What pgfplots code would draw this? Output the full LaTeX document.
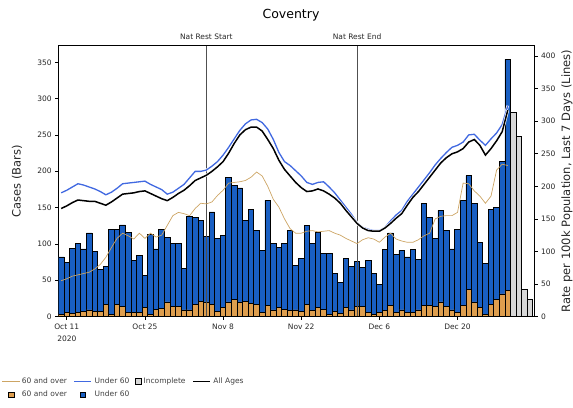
\documentclass[border=0pt]{standalone}
\usepackage{fontspec}
\setmainfont{DejaVu Sans}
\usepackage{pgfplots}
\usepackage{pgfplotstable}
\pgfplotsset{compat=1.18}

\definecolor{barblue}{RGB}{25,95,195}
\definecolor{barorange}{RGB}{222,158,78}
\definecolor{lineblue}{RGB}{65,105,225}
\definecolor{linetan}{RGB}{205,165,100}
\definecolor{incgray}{RGB}{215,215,215}
\definecolor{restgray}{RGB}{80,80,80}

% daily cases: d = days after 11 Oct 2020
\pgfplotstableread{
d over under
-1 3 79
0 5 69
1 4 90
2 6 94
3 7 86
4 9 106
5 7 82
6 7 58
7 16 53
8 3 117
9 16 104
10 14 112
11 6 110
12 5 72
13 5 79
14 13 44
15 3 110
16 10 83
17 11 109
18 20 89
19 14 87
20 14 87
21 9 57
22 9 129
23 17 120
24 21 111
25 20 90
26 17 127
27 7 101
28 13 99
29 20 172
30 23 158
31 20 157
32 21 111
33 18 129
34 17 101
35 6 85
36 15 145
37 9 92
38 13 82
39 10 91
40 8 111
41 9 61
42 7 73
43 16 109
44 8 92
45 13 103
46 10 77
47 3 84
48 7 52
49 4 43
50 13 67
51 9 60
52 14 62
53 14 54
54 6 71
55 3 56
56 5 39
57 8 84
58 15 100
59 5 80
60 9 82
61 6 76
62 6 86
63 9 70
64 15 141
65 15 122
66 14 94
67 20 126
68 14 104
69 9 84
70 5 115
71 15 145
72 37 157
73 20 136
74 13 89
75 3 70
76 17 130
77 24 126
78 31 182
79 36 318
}\bars

\pgfplotstableread{
d inc
80 281
81 248
82 37
83 24
}\incomplete

\pgfplotstableread{
d u60 all o60
-1 190 166 55
0 194 170 58
1 199 175 62
2 204 179 64
3 202 178 66
4 199 177 68
5 196 177 73
6 192 174 80
7 187 171 91
8 191 176 106
9 197 182 120
10 204 188 128
11 205 189 124
12 206 190 119
13 207 192 128
14 208 193 120
15 203 189 128
16 199 185 122
17 195 181 125
18 188 178 140
19 191 183 155
20 197 189 160
21 203 194 158
22 213 201 155
23 223 209 166
24 223 213 174
25 225 217 173
26 231 223 176
27 238 230 186
28 248 238 194
29 260 251 205
30 273 266 206
31 286 279 207
32 296 287 209
33 302 291 214
34 303 291 222
35 298 285 216
36 288 272 200
37 272 258 180
38 252 240 168
39 238 226 150
40 232 216 135
41 224 206 128
42 216 198 128
43 206 192 131
44 203 193 132
45 206 196 130
46 207 193 131
47 199 188 132
48 190 182 128
49 179 174 125
50 168 163 120
51 157 153 116
52 144 143 112
53 137 136 118
54 134 132 121
55 132 131 119
56 132 131 114
57 137 136 122
58 147 143 128
59 156 151 119
60 163 158 116
61 177 171 114
62 188 183 114
63 199 192 118
64 210 203 124
65 221 214 128
66 233 225 150
67 243 236 154
68 252 244 155
69 260 250 155
70 263 253 160
71 268 258 205
72 279 268 204
73 280 272 193
74 271 263 185
75 263 248 174
76 273 258 185
77 282 270 225
78 295 284 234
79 324 317 232
}\lines

\pgfplotsset{
  common/.style={
    scale only axis, width=475.3pt, height=270.8pt,
    at={(58.7pt,90.5pt)}, anchor=south west,
    xmin=-1.45, xmax=83.7,
    tick align=outside, major tick length=3.5pt,
    tick style={black, line width=0.6pt},
    tick label style={font=\fontsize{7.5}{12}\selectfont, text=black!85},
    /pgf/number format/assume math mode=true,
    axis line style={line width=0.8pt},
  }
}

\begin{document}
\begin{tikzpicture}
\useasboundingbox (0,0) rectangle (573pt,407pt);

\begin{axis}[common, ymin=0, ymax=372.9,
  ybar stacked, bar width=1,
  xtick={0,14,28,42,56,70},
  xticklabels={{Oct 11\\2020},{Oct 25},{Nov 8},{Nov 22},{Dec 6},{Dec 20}},
  xticklabel style={align=center},
  xtick pos=bottom,
  ytick={0,50,...,350}, ytick pos=left,
  ylabel={Cases (Bars)},
  ylabel style={at={(axis description cs:-0.0877,0.5)}, anchor=center, font=\fontsize{11.5}{13}\selectfont, text=black!85},
]
\addplot[fill=barorange, draw=black, line width=0.8pt] table[x=d, y=over] {\bars};
\addplot[fill=barblue, draw=black, line width=0.8pt] table[x=d, y=under] {\bars};
\path (axis cs:25,372.9) coordinate (nrs) (axis cs:52,372.9) coordinate (nre);
\end{axis}

\begin{axis}[common, ymin=0, ymax=372.9, hide axis, ybar, bar width=1, bar shift=0pt]
\addplot[fill=incgray, draw=black, line width=0.8pt] table[x=d, y=inc] {\incomplete};
\addplot[restgray, line width=0.8pt, sharp plot, forget plot] coordinates {(25,0) (25,372.9)};
\addplot[restgray, line width=0.8pt, sharp plot, forget plot] coordinates {(52,0) (52,372.9)};
\end{axis}

\begin{axis}[common, ymin=0, ymax=416.1,
  axis y line*=right, axis x line=none,
  ytick={0,50,...,400},
  ylabel={Rate per 100k Population, Last 7 Days (Lines)},
  ylabel style={at={(axis description cs:1.0694,0.5)}, anchor=center, font=\fontsize{11.5}{13}\selectfont, text=black!85},
  legend columns=4,
  legend style={at={(axis description cs:-0.1195,-0.2190)}, anchor=north west,
    draw=none, fill=none, font=\fontsize{7.5}{9}\selectfont, text=black!75,
    inner sep=0pt, row sep=2pt,
    /tikz/every even column/.append style={column sep=4pt}},
]
\addplot[linetan, line width=0.7pt, no marks] table[x=d, y=o60] {\lines};
\addlegendentry{60 and over}
\addplot[lineblue, line width=1.3pt, no marks, preaction={draw=white, line width=2.6pt}] table[x=d, y=u60] {\lines};
\addlegendentry{Under 60}
\addlegendimage{legend image code/.code={\draw[fill=incgray, draw=black, line width=0.6pt] (0.2cm,-0.1cm) rectangle (0.4cm,0.1cm);}}
\addlegendentry{Incomplete}
\addplot[black, line width=1.5pt, no marks, preaction={draw=white, line width=2.8pt}] table[x=d, y=all] {\lines};
\addlegendentry{All Ages}
\addlegendimage{legend image code/.code={\draw[fill=barorange, draw=black, line width=0.6pt] (0.2cm,-0.1cm) rectangle (0.4cm,0.1cm);}}
\addlegendentry{60 and over}
\addlegendimage{legend image code/.code={\draw[fill=barblue, draw=black, line width=0.6pt] (0.2cm,-0.1cm) rectangle (0.4cm,0.1cm);}}
\addlegendentry{Under 60}
\end{axis}

\node[font=\fontsize{7.5}{9}\selectfont, text=black!85, anchor=base, inner sep=0pt, yshift=6.5pt] at (nrs) {Nat Rest Start};
\node[font=\fontsize{7.5}{9}\selectfont, text=black!85, anchor=base, inner sep=0pt, yshift=6.5pt] at (nre) {Nat Rest End};
\node[font=\fontsize{12.5}{15}\selectfont, anchor=base, inner sep=0pt] at (291pt,388pt) {Coventry};
\end{tikzpicture}
\end{document}
